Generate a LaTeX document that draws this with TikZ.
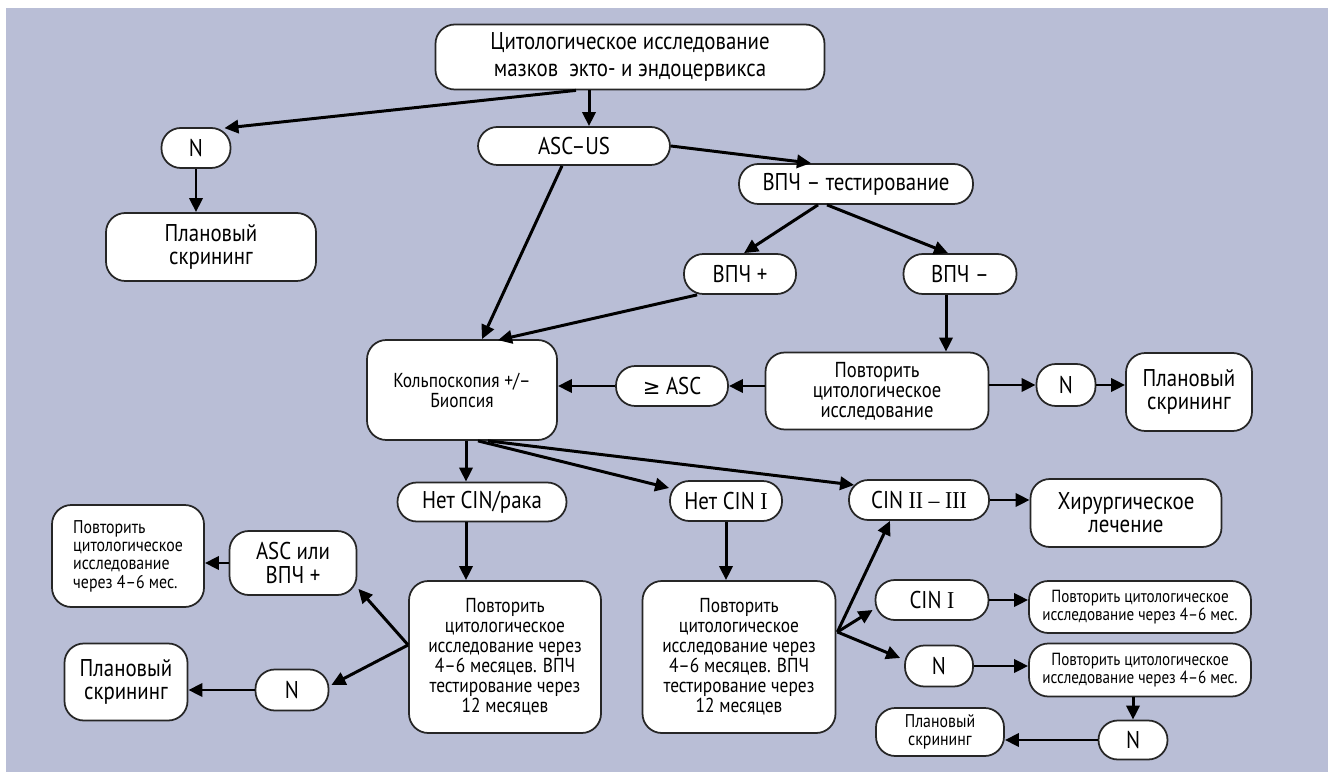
\documentclass[tikz,border=0pt]{standalone}
\usepackage{fontspec}
\setmainfont{PT Sans}[FakeStretch=0.86]
\newfontfamily\romfont{Liberation Serif}[FakeStretch=0.9]
\newfontfamily\symfont{DejaVu Sans}
\usetikzlibrary{arrows.meta,calc}
\definecolor{bgblue}{RGB}{185,190,214}
\newcommand{\ftop}  {\fontsize{13.8}{15.3}\selectfont}
\newcommand{\fbig}  {\fontsize{13.8}{13.2}\selectfont}
\newcommand{\frep}  {\fontsize{12.3}{11.4}\selectfont}
\newcommand{\fmid}  {\fontsize{11.5}{11.4}\selectfont}
\newcommand{\fsmall}{\fontsize{10.5}{10.4}\selectfont}
\newcommand{\ftiny} {\fontsize{10}{10.4}\selectfont}

\begin{document}
\begin{tikzpicture}[x=0.02cm,y=-0.02cm,
   box/.style={draw=black!85,line width=1pt,fill=white,rounded corners=11pt,
               align=center,inner sep=0pt},
   sz/.style 2 args={minimum width={#1*0.02cm},minimum height={#2*0.02cm}},
   arr/.style={-{Triangle[length=8pt,width=7.5pt]},line width=1.7pt}]
   \useasboundingbox (0,0) rectangle (1328,773);
   \fill[white] (0,0) rectangle (1328,773);
   \fill[bgblue] (6,8) rectangle (1328,772);

   % upper part
   \node[box,sz={389}{65},font=\ftop]  (top)   at (630,57)  {Цитологическое исследование\\мазков\ \ экто- и эндоцервикса};
   \node[box,sz={69}{40},font=\fbig]   (nL)    at (196,148) {N};
   \node[box,sz={210}{68},font=\fbig]  (planL) at (211,247) {Плановый\\скрининг};
   \node[box,sz={192}{38},font=\fbig]  (asc)   at (574,146) {ASC–US};
   \node[box,sz={234}{40},font=\fbig]  (hpv)   at (856,184) {ВПЧ – тестирование};
   \node[box,sz={112}{40},font=\fbig]  (hpvP)  at (740,274) {ВПЧ +};
   \node[box,sz={113}{40},font=\fbig]  (hpvM)  at (960,274) {ВПЧ –};
   \node[box,sz={190}{100},font=\fmid] (kolpo) at (462,390) {Кольпоскопия +/–\\Биопсия};
   \node[box,sz={112}{40},font=\fbig]  (geq)   at (672,386) {{\symfont\fontsize{12}{12}\selectfont ≥} ASC};
   \node[box,sz={223}{77},font=\frep]  (rep1)  at (877,391) {Повторить\\цитологическое\\исследование};
   \node[box,sz={59}{42},font=\fbig]   (nM)    at (1066,385) {N};
   \node[box,sz={126}{78},font=\fbig]  (planM) at (1189,392) {Плановый\\скрининг};

   % lower part
   \node[box,sz={169}{39},font=\fbig]  (noCIN)  at (482,502) {Нет CIN/рака};
   \node[box,sz={112}{40},font=\fbig]  (noCIN1) at (726,501) {Нет CIN {\romfont I}};
   \node[box,sz={140}{40},font=\fbig]  (cin23)  at (919,500) {CIN {\romfont II – III}};
   \node[box,sz={191}{68},font=\fbig]  (surg)   at (1126,513) {Хирургическое\\лечение};
   \node[box,sz={192}{152},font=\fmid] (rep2)   at (505,657) {Повторить\\цитологическое\\исследование через\\4–6 месяцев. ВПЧ\\тестирование через\\12 месяцев};
   \node[box,sz={193}{152},font=\fmid] (rep3)   at (739,657) {Повторить\\цитологическое\\исследование через\\4–6 месяцев. ВПЧ\\тестирование через\\12 месяцев};
   \node[box,sz={127}{64},font=\fbig]  (ascor)  at (293,563) {ASC или\\ВПЧ +};
   \node[box,sz={152}{102},font=\fsmall,align=left] (repL) at (128,556) {Повторить\\цитологическое\\исследование\\через 4–6 мес.};
   \node[box,sz={73}{41},font=\fbig]   (nBL)    at (292,690) {N};
   \node[box,sz={123}{77},font=\fbig]  (planBL) at (126,682) {Плановый\\скрининг};
   \node[box,sz={113}{40},font=\fbig]  (cin1)   at (932,600) {CIN {\romfont I}};
   \node[box,sz={68}{41},font=\fbig]   (nR)     at (939,666) {N};
   \node[box,sz={222}{52},font=\ftiny] (repS1)  at (1140,607) {Повторить цитологическое\\исследование через 4–6 мес.};
   \node[box,sz={222}{53},font=\ftiny] (repS2)  at (1140,670) {Повторить цитологическое\\исследование через 4–6 мес.};
   \node[box,sz={69}{39},font=\fbig]   (nBR)    at (1133,740) {N};
   \node[box,sz={128}{48},font=\fsmall] (planBR) at (940,732) {Плановый\\скрининг};

   % connectors
   \draw[arr] ($(top.south)+(-41,0)$) coordinate (t1) -- (t1 |- asc.north);
   \draw[arr] ($(top.south)+(-54,0)$) -- ($(nL.north east)+(-7,1)$);
   \draw[arr] (nL.south) -- (nL.south |- planL.north);
   \draw[arr] (asc.east) -- ($(hpv.north)+(-45,0)$);
   \draw[arr] ($(hpv.south)+(-38,0)$) -- ($(hpvP.north)+(4,0)$);
   \draw[arr] ($(hpv.south)+(-29,0)$) -- ($(hpvM.north)+(-12,0)$);
   \draw[arr] ($(hpvM.south)+(-14,0)$) coordinate (m1) -- (m1 |- rep1.north);
   \draw[arr] (rep1.west |- geq.east) -- (geq.east);
   \draw[arr] (geq.west) -- (geq.west -| kolpo.east);
   \draw[arr] (rep1.east |- nM.west) -- (nM.west);
   \draw[arr] (nM.east) -- (nM.east -| planM.west);
   \draw[arr] ($(asc.south)+(-12,0)$) -- ($(kolpo.north)+(20,0)$);
   \draw[arr] ($(hpvP.south west)+(14,0)$) -- ($(kolpo.north)+(36,1)$);

   \draw[arr] ($(kolpo.south)+(4,0)$) coordinate (k1) -- (k1 |- noCIN.north);
   \draw[arr] ($(kolpo.south)+(16,0)$) -- ($(noCIN1.west)+(0,-13)$);
   \draw[arr] ($(kolpo.south)+(26,0)$) -- ($(cin23.west)+(6,-15)$);
   \draw[arr] ($(noCIN.south)+(-16,0)$) coordinate (k2) -- (k2 |- rep2.north);
   \draw[arr] ($(rep2.west)+(0,-12)$) coordinate (r2) -- ($(ascor.south east)+(1,-7)$);
   \draw[arr] (r2) -- ($(nBL.east)+(2,-5)$);
   \draw[arr] (ascor.west) -- (ascor.west -| repL.east);
   \draw[arr] (nBL.west) -- (nBL.west -| planBL.east);

   \draw[arr] (noCIN1.south) -- (noCIN1.south |- rep3.north);
   \draw[arr] ($(rep3.east)+(1,-25)$) coordinate (r3) -- ($(cin23.south)+(-29,0)$);
   \draw[arr] (r3) -- ($(cin1.west)+(-2,10)$);
   \draw[arr] (r3) -- ($(nR.west)+(-4,-8)$);
   \draw[arr] (cin23.east) -- (cin23.east -| surg.west);
   \draw[arr] (cin1.east) -- (cin1.east -| repS1.west);
   \draw[arr] (nR.east) -- (nR.east -| repS2.west);
   \draw[arr] (nBR.north |- repS2.south) -- (nBR.north);
   \draw[arr] (nBR.west) -- (nBR.west -| planBR.east);
\end{tikzpicture}
\end{document}
